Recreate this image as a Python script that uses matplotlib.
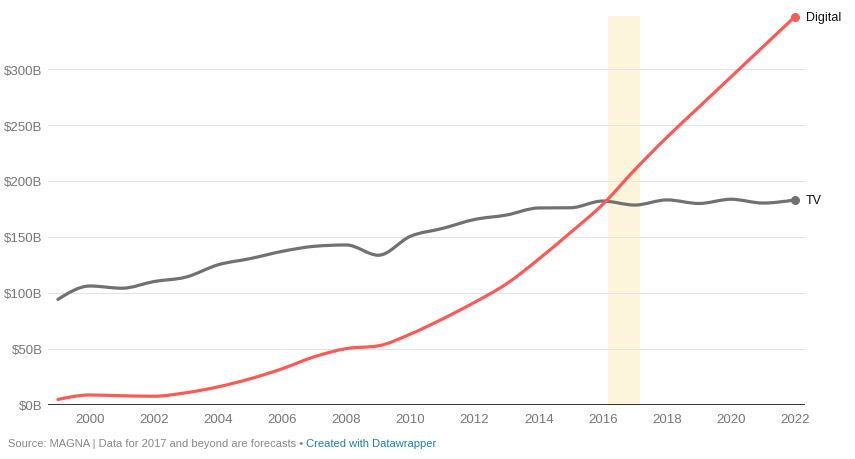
import matplotlib
matplotlib.use("Agg")
import matplotlib.pyplot as plt
import numpy as np
from matplotlib.path import Path
from matplotlib.patches import PathPatch

plt.rcParams["font.family"] = ["Liberation Sans", "DejaVu Sans"]

years = list(range(1999, 2023))
tv = [94, 106, 104, 110, 114, 125, 130.5, 137, 141.5, 142.7, 133.5, 150.5,
      157.5, 165.5, 169.5, 175.8, 176, 182, 178.4, 183, 179.8, 183.6, 180.2, 183]
digital = [4.5, 8.5, 7.8, 7.4, 10.5, 15.8, 23, 32, 42.7, 50, 52.5, 63,
           76.5, 91.4, 108, 130, 154, 179, 210, 239, 266, 293, 320, 347]
forecast_band = (2016.17, 2017.15)
y_ticks = [0, 50, 100, 150, 200, 250, 300]

RED = "#fb5b57"
GREY = "#717171"


def monotone_path(x, y):
    """Cubic bezier path like d3.curveMonotoneX."""
    x = np.asarray(x, float)
    y = np.asarray(y, float)
    n = len(x)
    h = np.diff(x)
    s = np.diff(y) / h
    t = np.zeros(n)
    for i in range(1, n - 1):
        p = (s[i - 1] * h[i] + s[i] * h[i - 1]) / (h[i - 1] + h[i])
        t[i] = (np.sign(s[i - 1]) + np.sign(s[i])) * min(abs(s[i - 1]), abs(s[i]), 0.5 * abs(p))
    t[0] = (3 * s[0] - t[1]) / 2
    t[-1] = (3 * s[-1] - t[-2]) / 2
    verts = [(x[0], y[0])]
    codes = [Path.MOVETO]
    for i in range(n - 1):
        d = h[i] / 3
        verts += [(x[i] + d, y[i] + t[i] * d), (x[i + 1] - d, y[i + 1] - t[i + 1] * d), (x[i + 1], y[i + 1])]
        codes += [Path.CURVE4] * 3
    return Path(verts, codes)


fig = plt.figure(figsize=(8.55, 4.6), dpi=100)
ax = fig.add_axes([48 / 855, 1 - 405.5 / 460, 757 / 855, 388.5 / 460])

ax.axvspan(*forecast_band, color="#fdf4dc", zorder=0, lw=0)

for yt in y_ticks[1:]:
    ax.axhline(yt, color="#e3e3e3", lw=0.8, zorder=1)
ax.axhline(0, color="#111111", lw=1.2, zorder=4)

for series, color, label in [(tv, GREY, "TV"), (digital, RED, "Digital")]:
    ax.add_patch(PathPatch(monotone_path(years, series), fill=False, edgecolor=color,
                           lw=2.3, capstyle="round", joinstyle="round", zorder=3))
    ax.plot([years[-1]], [series[-1]], "o", color=color, ms=5.5, zorder=5, clip_on=False)
    ax.annotate(label, (years[-1], series[-1]), xytext=(8, 0), textcoords="offset points",
                va="center", ha="left", fontsize=9, color="#111111", annotation_clip=False)

ax.set_xlim(1998.69, 2022.31)
ax.set_ylim(0, 347.5)
ax.set_yticks(y_ticks)
ax.set_yticklabels([f"${v}B" for v in y_ticks])
ax.set_xticks(list(range(2000, 2023, 2)))
ax.tick_params(axis="both", length=0, labelsize=9.5, labelcolor="#777777")
ax.tick_params(axis="y", pad=4)
ax.tick_params(axis="x", pad=6)
for spine in ax.spines.values():
    spine.set_visible(False)

fig.text(8 / 855, 1 - 444 / 460, "Source: MAGNA | Data for 2017 and beyond are forecasts \u2022 ",
         fontsize=8, color="#888888", va="center", ha="left")
src = fig.texts[-1]
fig.canvas.draw()
bb = src.get_window_extent()
fig.text(bb.x1 / 855, 1 - 444 / 460, "Created with Datawrapper",
         fontsize=8, color="#1d81a2", va="center", ha="left")

fig.savefig("out.png", dpi=100)
